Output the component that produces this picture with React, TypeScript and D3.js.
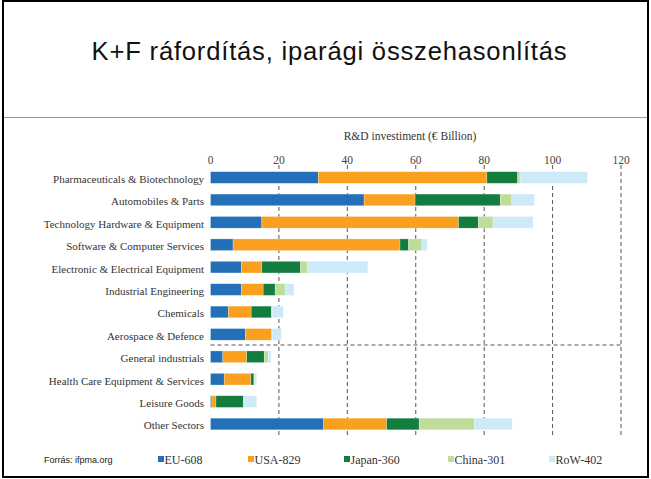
import React from 'react';
import { scaleLinear, scaleBand, stack } from 'd3';

const categories = [
  "Pharmaceuticals & Biotechnology",
  "Automobiles & Parts",
  "Technology Hardware & Equipment",
  "Software & Computer Services",
  "Electronic & Electrical Equipment",
  "Industrial Engineering",
  "Chemicals",
  "Aerospace & Defence",
  "General industrials",
  "Health Care Equipment & Services",
  "Leisure Goods",
  "Other Sectors",
];

const eu = [31.5, 44.9, 15.0, 6.6, 9.0, 9.0, 5.2, 10.2, 3.6, 4.0, 0.4, 33.1];
const usa = [49.3, 14.9, 57.5, 48.8, 6.0, 6.4, 6.7, 7.6, 7.0, 7.8, 1.2, 18.4];
const japan = [9.0, 24.9, 5.8, 2.5, 11.3, 3.5, 5.9, 0.1, 5.1, 0.9, 8.0, 9.5];
const china = [0.7, 3.4, 4.3, 3.9, 2.1, 2.9, 0.2, 0.1, 1.2, 0.2, 0.2, 16.1];
const rest = [19.7, 6.6, 11.7, 1.6, 17.6, 2.6, 3.3, 2.7, 0.8, 0.6, 3.7, 11.1];

const seriesKeys = ["EU-608", "USA-829", "Japan-360", "China-301", "RoW-402"];
const seriesColors = ["#2470b8", "#f9a11f", "#137c3f", "#bedd9a", "#cdeaf9"];
const xTicks = [0, 20, 40, 60, 80, 100, 120];

const serif = "'Liberation Serif', serif";
const sans = "'Liberation Sans', Arial, sans-serif";

const App = () => {
  const width = 651;
  const height = 479;

  const rows = categories.map((c, i) => ({
    category: c,
    "EU-608": eu[i],
    "USA-829": usa[i],
    "Japan-360": japan[i],
    "China-301": china[i],
    "RoW-402": rest[i],
  }));

  const stacked = stack().keys(seriesKeys)(rows as any);

  const x = scaleLinear().domain([0, 120]).range([210.5, 621]);
  const y = scaleBand().domain(categories).range([166.3, 435.2]).paddingInner(0.48).paddingOuter(0.24);

  const gridTop = 165;
  const gridBottom = 436;
  const splitY = 345;

  return (
    <svg width={width} height={height} style={{ position: 'absolute', left: 0, top: 0, background: '#fff' }}>
      <rect x={3} y={1} width={645} height={476} fill="#fff" stroke="#000" strokeWidth={2} />
      <line x1={4} x2={647} y1={117.5} y2={117.5} stroke="#999" strokeWidth={1} />

      <text x={329.5} y={60} textAnchor="middle" fontFamily={sans} fontSize={25.6} letterSpacing={0.8} fill="#111">
        K+F ráfordítás, iparági összehasonlítás
      </text>

      <text x={410} y={140} textAnchor="middle" fontFamily={serif} fontSize={11.5} fill="#333">
        R&amp;D investiment (€ Billion)
      </text>

      {xTicks.map((t) => (
        <text key={t} x={x(t)} y={164} textAnchor="middle" fontFamily={serif} fontSize={11.5} fill="#444">
          {t}
        </text>
      ))}

      {xTicks.filter((t) => t > 0).map((t) => (
        <line key={t} x1={x(t)} x2={x(t)} y1={gridTop} y2={gridBottom}
          stroke="#555" strokeWidth={1} strokeDasharray="4,3" />
      ))}
      <line x1={x(0)} x2={x(120)} y1={splitY} y2={splitY} stroke="#555" strokeWidth={1} strokeDasharray="4,3" />

      {stacked.map((s, si) => (
        <g key={s.key} fill={seriesColors[si]}>
          {s.map((d: any, i: number) => (
            <rect key={i} x={x(d[0])} y={y(categories[i])} width={Math.max(0, x(d[1]) - x(d[0]))}
              height={y.bandwidth()} stroke="#fff" strokeOpacity={0.5} strokeWidth={0.5} />
          ))}
        </g>
      ))}

      {categories.map((c) => (
        <text key={c} x={204} y={(y(c) as number) + y.bandwidth() / 2 + 5.5} textAnchor="end"
          fontFamily={serif} fontSize={11} fill="#333">
          {c}
        </text>
      ))}

      <text x={44} y={463} fontFamily={sans} fontSize={9} fill="#222">Forrás: ifpma.org</text>

      {seriesKeys.map((k, i) => {
        const lx = [158, 248, 344, 448, 549][i];
        return (
          <g key={k}>
            <rect x={lx} y={456} width={6} height={6} fill={seriesColors[i]} />
            <text x={lx + 6.5} y={463.5} fontFamily={serif} fontSize={12} fill="#333">{k}</text>
          </g>
        );
      })}
    </svg>
  );
};

export default App;
